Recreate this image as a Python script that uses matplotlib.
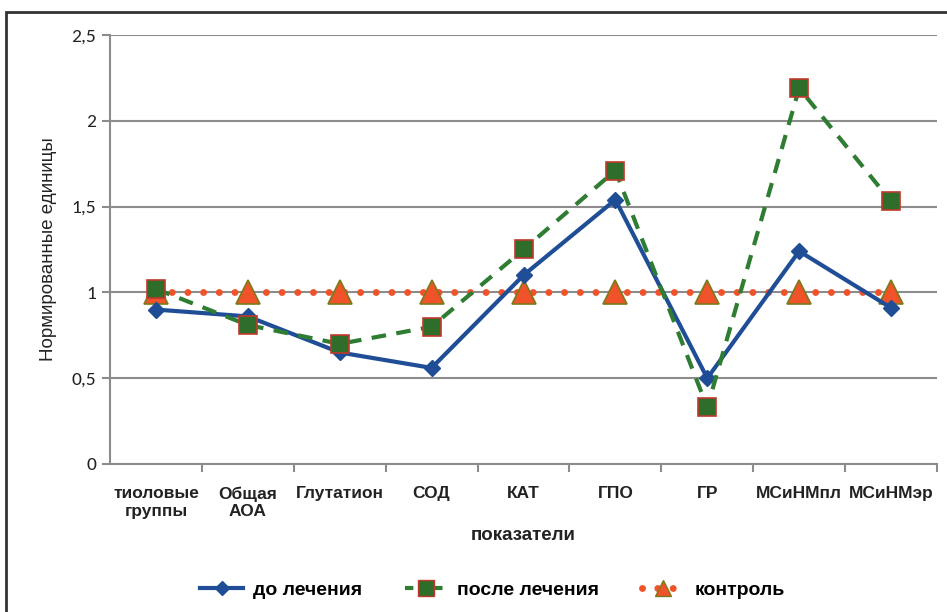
import matplotlib
matplotlib.use("Agg")
import matplotlib.pyplot as plt
from matplotlib.patches import Rectangle
from matplotlib.ticker import FixedLocator
from matplotlib.lines import Line2D
import numpy as np

categories = ["тиоловые\nгруппы", "Общая\nАОА", "Глутатион", "СОД", "КАТ", "ГПО", "ГР", "МСиНМпл", "МСиНМэр"]
before = [0.90, 0.86, 0.65, 0.56, 1.10, 1.54, 0.50, 1.24, 0.91]
after = [1.02, 0.81, 0.70, 0.80, 1.25, 1.71, 0.33, 2.19, 1.53]
control = [1, 1, 1, 1, 1, 1, 1, 1, 1]
yticks = [0, 0.5, 1, 1.5, 2, 2.5]
ytick_labels = ["0", "0,5", "1", "1,5", "2", "2,5"]

fam = ["Liberation Sans Narrow", "Liberation Sans", "DejaVu Sans"]

fig = plt.figure(figsize=(9.47, 6.12), dpi=100)
fig.patches.append(Rectangle((6/947, -0.1), 1.1, 1 - 12/612 + 0.1, transform=fig.transFigure,
                             fill=False, edgecolor="#333333", linewidth=2))
ax = fig.add_axes([110/947, 1 - 464/612, 827/947, 429/612])

x = np.arange(len(categories))
ax.plot(x, control, linestyle=(0, (0.01, 2.25)), dash_capstyle="round", color="#f0522a", linewidth=5, zorder=3)
ax.plot(x, control, linestyle="none", marker="^", markersize=17, markerfacecolor="#f0522a",
        markeredgecolor="#7a7a1a", markeredgewidth=1.2, zorder=4)
ax.plot(x, before, color="#1f4e96", linewidth=3, marker="D", markersize=8,
        markerfacecolor="#1f4e96", markeredgecolor="#1f4e96", zorder=5)
ax.plot(x, after, color="#2e7d32", linewidth=3, linestyle=(0, (3.5, 2.5)), marker="s", markersize=13,
        markerfacecolor="#2f6e2a", markeredgecolor="#c0392b", markeredgewidth=1.2, zorder=6)

ax.set_xlim(-0.5, len(categories) - 0.5)
ax.set_ylim(0, 2.5)
ax.set_yticks(yticks)
ax.set_yticklabels(ytick_labels, fontsize=14, family=["Carlito", "Liberation Sans", "DejaVu Sans"], color="#222222")
ax.yaxis.grid(True, color="#8c8c8c", linewidth=1.5)
ax.set_axisbelow(True)
ax.set_xticks(x)
ax.set_xticklabels(categories, fontsize=12.5, family=fam, fontweight="bold", color="#222222")
ax.xaxis.set_minor_locator(FixedLocator(np.arange(0.5, len(categories) - 0.5 + 0.01, 1.0)))
ax.tick_params(axis="x", which="major", length=0, pad=16)
ax.tick_params(axis="x", which="minor", length=6, color="#8c8c8c", width=1.5)
ax.tick_params(axis="y", length=6, color="#8c8c8c", width=1.5, pad=4)
for s in ["top", "right"]:
    ax.spines[s].set_visible(False)
for s in ["left", "bottom"]:
    ax.spines[s].set_color("#8c8c8c")
    ax.spines[s].set_linewidth(1.5)

ax.set_xlabel("показатели", fontsize=13.5, family=fam, fontweight="bold", labelpad=6, color="#222222")
ax.set_ylabel("Нормированные единицы", fontsize=13.5, family=["Liberation Sans", "DejaVu Sans"], labelpad=10,
              color="#222222")

h1 = Line2D([], [], color="#1f4e96", linewidth=3, marker="D", markersize=7)
h2 = Line2D([], [], color="#2e7d32", linewidth=3, linestyle=(0, (2, 1.5)), marker="s", markersize=11,
            markerfacecolor="#2f6e2a", markeredgecolor="#c0392b")
h3 = Line2D([], [], color="#f0522a", linewidth=5, linestyle=(0, (0.01, 2.2)), dash_capstyle="round",
            marker="^", markersize=12, markerfacecolor="#f0522a", markeredgecolor="#7a7a1a")
fig.legend([h1, h2, h3], ["до лечения", "после лечения", "контроль"], loc="center",
           bbox_to_anchor=(0.52, 1 - 590/612), ncol=3, frameon=False, handlelength=2.2,
           columnspacing=2.2, handletextpad=0.5, prop={"family": fam, "size": 14, "weight": "bold"})

fig.savefig("out.png", dpi=100)
